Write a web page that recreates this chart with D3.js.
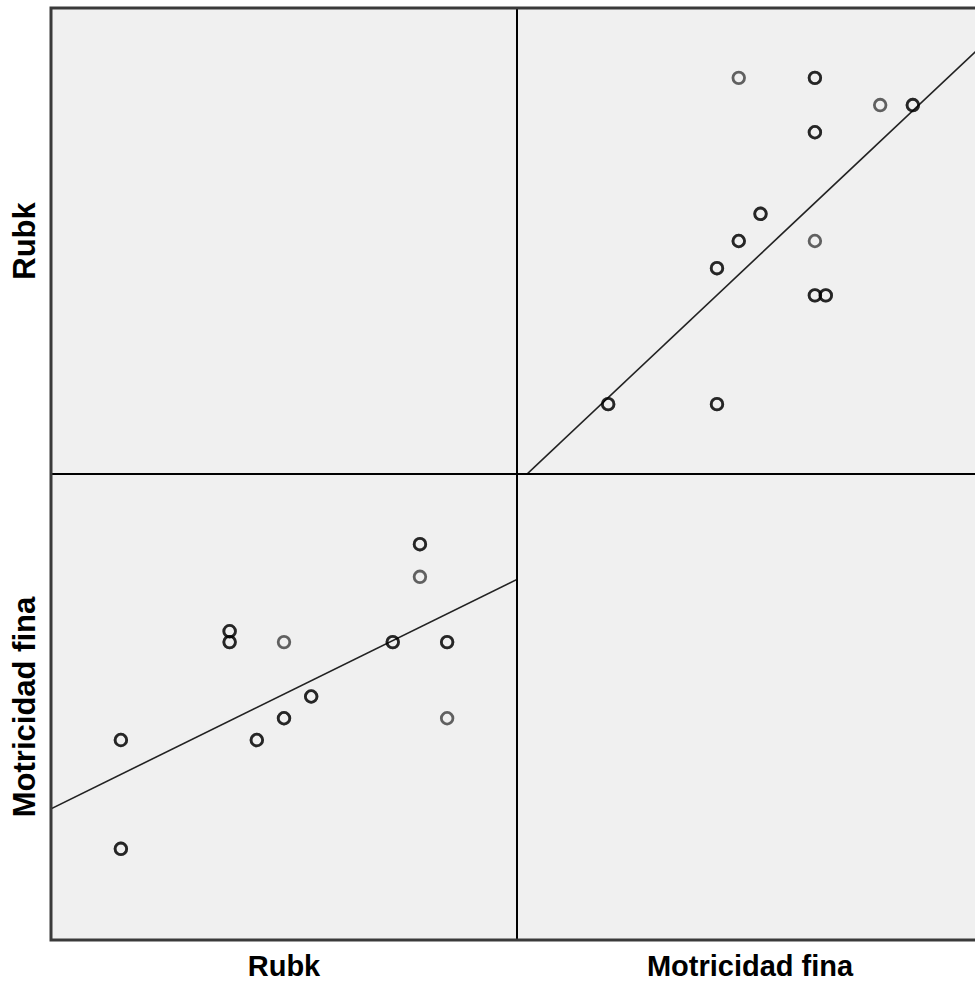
<!DOCTYPE html>
<html>
<head>
<script type="text/javascript" src="https://cdn.jsdelivr.net/npm/d3@7"></script>
<style>
body { margin: 0; background: #fff; }
text { font-family: "Liberation Sans", Arial, sans-serif; font-weight: bold; fill: #000; }
</style>
</head>
<body>
<div id="viz"></div>
<script type="text/javascript">
//Variables of the matrix (row/column order)
var variables = ["Rubk", "Motricidad fina"];

//Cases (value pairs + how many cases sit on the same spot)
var rubk       = [8, 8, 12, 12, 13, 14, 14, 15, 18, 19, 19, 20, 20];
var motricidad = [40, 30, 50, 49, 40, 49, 42, 44, 49, 58, 55, 49, 42];
var counts     = [2, 2, 2, 2, 2, 1, 2, 2, 2, 2, 1, 2, 1];

//Axis ranges for each variable
var rubkDomain = [5.43, 22.57];
var motricidadDomain = [21.62, 64.45];

//Fit lines: [row variable on column variable] -> intercept, slope
var fitMotricidadOnRubk = [27.0, 1.23];
var fitRubkOnMotricidad = [-3.07, 0.377];

//Layout (note: "top" is a reserved window property, so use other names)
var width = 975, height = 985;
var frameLeft = 51, frameTop = 8, cell = 466;

var domains = [rubkDomain, motricidadDomain];
var fits = [[null, fitRubkOnMotricidad], [fitMotricidadOnRubk, null]];

//One point per case, duplicates stacked on top of each other
var points = [];
for (var i = 0; i < rubk.length; i++) {
    for (var k = 0; k < counts[i]; k++) {
        points.push([rubk[i], motricidad[i]]);
    }
}

var svg = d3.select("#viz").append("svg")
    .attr("width", width)
    .attr("height", height)
    .style("display", "block");

var defs = svg.append("defs");

for (var row = 0; row < 2; row++) {
    for (var col = 0; col < 2; col++) {
        var gx = frameLeft + col * cell;
        var gy = frameTop + row * cell;
        var g = svg.append("g").attr("transform", "translate(" + gx + "," + gy + ")");

        g.append("rect")
            .attr("width", cell)
            .attr("height", cell)
            .attr("fill", "#f0f0f0");

        if (row == col) continue;

        var id = "clip" + row + col;
        defs.append("clipPath").attr("id", id)
            .append("rect").attr("width", cell).attr("height", cell);

        var x = d3.scaleLinear().domain(domains[col]).range([0, cell]);
        var y = d3.scaleLinear().domain(domains[row]).range([cell, 0]);
        var fit = fits[row][col];
        var xi = col, yi = row;

        var inner = g.append("g").attr("clip-path", "url(#" + id + ")");

        //Fit line across the cell
        var line = d3.line()
            .x(function(d) { return x(d); })
            .y(function(d) { return y(fit[0] + fit[1] * d); });
        inner.append("path")
            .datum(domains[col])
            .attr("d", line)
            .attr("fill", "none")
            .attr("stroke", "#222")
            .attr("stroke-width", 1.6);

        //Points
        inner.selectAll("circle")
            .data(points)
            .enter()
            .append("circle")
            .attr("cx", function(d) { return x(d[xi]); })
            .attr("cy", function(d) { return y(d[yi]); })
            .attr("r", 5.8)
            .attr("fill", "none")
            .attr("stroke", "#000")
            .attr("stroke-opacity", 0.6)
            .attr("stroke-width", 2.8);
    }
}

//Dividers
svg.append("line")
    .attr("x1", frameLeft + cell).attr("x2", frameLeft + cell)
    .attr("y1", frameTop).attr("y2", frameTop + 2 * cell)
    .attr("stroke", "#000").attr("stroke-width", 2);
svg.append("line")
    .attr("x1", frameLeft).attr("x2", frameLeft + 2 * cell)
    .attr("y1", frameTop + cell).attr("y2", frameTop + cell)
    .attr("stroke", "#000").attr("stroke-width", 2);

//Outer frame
svg.append("rect")
    .attr("x", frameLeft).attr("y", frameTop)
    .attr("width", 2 * cell).attr("height", 2 * cell)
    .attr("fill", "none")
    .attr("stroke", "#3a3a3a")
    .attr("stroke-width", 3);

//Variable labels
variables.forEach(function(v, i) {
    svg.append("text")
        .attr("transform", "translate(24," + (frameTop + i * cell + cell / 2) + ") rotate(-90)")
        .attr("text-anchor", "middle")
        .attr("dominant-baseline", "central")
        .style("font-size", "31px")
        .text(v);
    svg.append("text")
        .attr("x", frameLeft + i * cell + cell / 2)
        .attr("y", 976)
        .attr("text-anchor", "middle")
        .style("font-size", "29px")
        .text(v);
});
</script>
</body>
</html>
